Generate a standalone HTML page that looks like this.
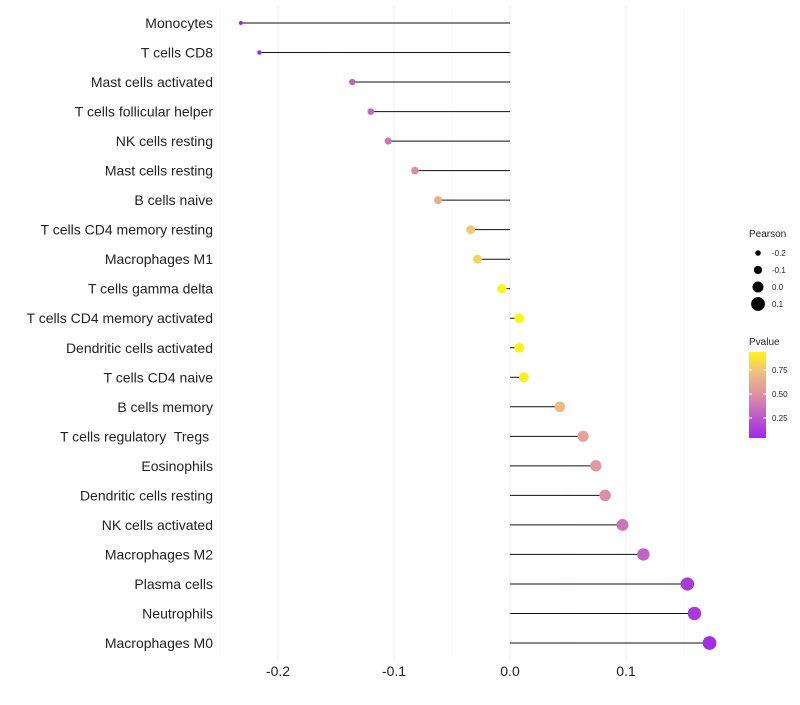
<!DOCTYPE html>
<html><head><meta charset="utf-8"><style>
body{margin:0;background:#fff;font-family:"Liberation Sans",sans-serif}
</style></head><body>
<svg id="c" width="800" height="700" xmlns="http://www.w3.org/2000/svg"></svg>
<script>
const categories=["Monocytes","T cells CD8","Mast cells activated","T cells follicular helper","NK cells resting","Mast cells resting","B cells naive","T cells CD4 memory resting","Macrophages M1","T cells gamma delta","T cells CD4 memory activated","Dendritic cells activated","T cells CD4 naive","B cells memory","T cells regulatory  Tregs ","Eosinophils","Dendritic cells resting","NK cells activated","Macrophages M2","Plasma cells","Neutrophils","Macrophages M0"];
const pearson=[-0.232,-0.216,-0.136,-0.120,-0.105,-0.082,-0.062,-0.034,-0.028,-0.007,0.008,0.008,0.012,0.043,0.063,0.074,0.082,0.097,0.115,0.153,0.159,0.172];
const pvalue=[0.02,0.05,0.28,0.32,0.38,0.48,0.66,0.78,0.82,0.96,0.96,0.95,0.94,0.72,0.60,0.55,0.50,0.38,0.30,0.13,0.11,0.07];
const xTicks=[-0.2,-0.1,0.0,0.1];
const xTickLabels=["-0.2","-0.1","0.0","0.1"];
const sizeLegend=[-0.2,-0.1,0.0,0.1];
const colorTicks=[0.25,0.5,0.75];

const svg=document.getElementById('c');const NS="http://www.w3.org/2000/svg";
function mk(t,a,p){const e=document.createElementNS(NS,t);for(const k in a)e.setAttribute(k,a[k]);(p||svg).appendChild(e);return e;}
const x=v=>510+v*1160;
const y=i=>23+i*(620/(categories.length-1));
const r=v=>4.8+v*12;
const stops=[[0,[154,31,240]],[0.5,[220,143,164]],[0.75,[240,192,128]],[1,[255,255,0]]];
function col(p){for(let i=1;i<stops.length;i++){if(p<=stops[i][0]){const a=stops[i-1],b=stops[i],t=(p-a[0])/(b[0]-a[0]);return 'rgb('+a[1].map((c,j)=>Math.round(c+(b[1][j]-c)*t)).join(',')+')';}}return 'rgb(255,255,0)';}

const grid=mk('g',{});
for(let v=-0.25;v<=0.151;v+=0.05){const major=Math.abs(Math.round(v*20)%2)===0;
 mk('line',{x1:x(v),x2:x(v),y1:5,y2:660,stroke:major?'#ededed':'#f5f5f5','stroke-width':major?1:0.6},grid);}
xTicks.forEach((t,i)=>{const e=mk('text',{x:x(t),y:676,'text-anchor':'middle','font-size':14,fill:'#222'});e.textContent=xTickLabels[i];
 });
categories.forEach((c,i)=>{
 const t=mk('text',{x:213,y:y(i)+5,'text-anchor':'end','font-size':14,fill:'#222'});t.setAttribute('xml:space','preserve');t.style.whiteSpace='pre';t.textContent=c;
 
 const l=mk('line',{x1:x(0),x2:x(pearson[i]),y1:y(i),y2:y(i),stroke:'#111','stroke-width':1});
 
 const p=mk('circle',{cx:x(pearson[i]),cy:y(i),r:r(pearson[i]),fill:col(pvalue[i])});
 
});
let t=mk('text',{x:749,y:237,'font-size':10,fill:'#222'});t.textContent='Pearson';
sizeLegend.forEach((v,i)=>{const cy=253+i*17;const c=mk('circle',{cx:758,cy:cy,r:r(v)*1.15,fill:'#000'});
 
 const tt=mk('text',{x:772,y:cy+3,'font-size':8,fill:'#222'});tt.textContent=v.toFixed(1);});
t=mk('text',{x:749,y:345,'font-size':10,fill:'#222'});t.textContent='Pvalue';
const defs=mk('defs',{});const g=mk('linearGradient',{id:'gr',x1:0,y1:1,x2:0,y2:0},defs);
[0.04,0.25,0.5,0.75,0.96].forEach(v=>mk('stop',{offset:(v-0.04)/0.92,'stop-color':col(v)},g));
const bar=mk('rect',{x:749,y:352,width:17,height:86,fill:'url(#gr)'});
const cy=v=>442-v*96;
colorTicks.forEach(v=>{mk('line',{x1:749,x2:752,y1:cy(v),y2:cy(v),stroke:'#fff'});mk('line',{x1:763,x2:766,y1:cy(v),y2:cy(v),stroke:'#fff'});
 const tt=mk('text',{x:772,y:cy(v)+3,'font-size':8,fill:'#222'});tt.textContent=v.toFixed(2);});
</script>
</body></html>
